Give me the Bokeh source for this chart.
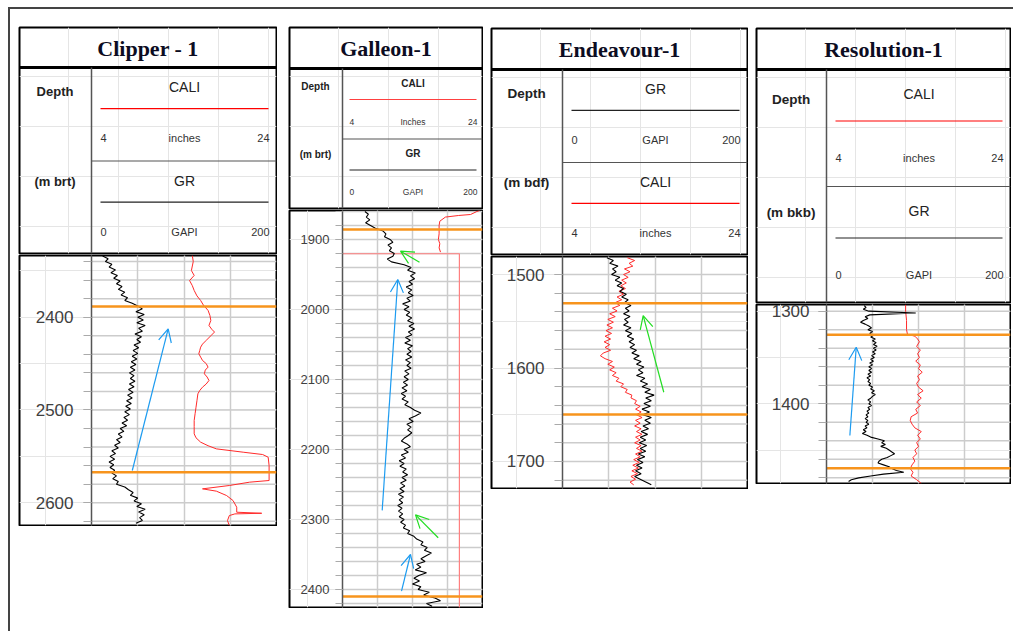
from bokeh.plotting import figure
from bokeh.models import (Range1d, LinearAxis, Grid, FixedTicker, SingleIntervalTicker,
                          Arrow, OpenHead, Spacer, ColumnDataSource)
from bokeh.layouts import row, column
from bokeh.embed import file_html
from bokeh.resources import INLINE
from bokeh.core.properties import value

# ---------------- data ----------------
well_names = ["Clipper - 1", "Galleon-1", "Endeavour-1", "Resolution-1"]
depth_units = ["(m brt)", "(m brt)", "(m bdf)", "(m bkb)"]

# Clipper-1 (depth sampled every 3 m)
clipper_depth = list(range(2334, 2623, 3))
clipper_gr = [12, 18, 15, 22, 19, 26, 21, 28, 24, 31,
              27, 33, 29, 36, 32, 39, 36, 44, 50, 55,
              48, 57, 50, 56, 49, 58, 51, 55, 47, 54,
              49, 53, 46, 51, 45, 50, 44, 49, 43, 48,
              42, 47, 41, 46, 42, 47, 41, 46, 40, 45,
              39, 44, 38, 43, 37, 42, 36, 41, 35, 39,
              33, 38, 31, 35, 29, 33, 27, 31, 25, 29,
              22, 26, 20, 25, 19, 24, 20, 25, 22, 27,
              23, 29, 27, 36, 40, 45, 42, 50, 46, 54,
              49, 58, 51, 57, 52, 55, 48]
clipper_cali_depth = [2333.5, 2340, 2349.7, 2355, 2360.5, 2366, 2371.2, 2377, 2382, 2387,
                      2392.7, 2398, 2403.5, 2408.9, 2413, 2416, 2420, 2425, 2429, 2432.3,
                      2436, 2439.4, 2443, 2446.6, 2450, 2453.8, 2457, 2461, 2464.5, 2468.2,
                      2472, 2475.4, 2479, 2482.6, 2490, 2497, 2504, 2511.3, 2518, 2525.7,
                      2530, 2534.7, 2538.5, 2541.9, 2545.5, 2548, 2550.9, 2560, 2570, 2576,
                      2577.8, 2581.4, 2585, 2587.5, 2592.2, 2597.6, 2604.8, 2610.2, 2611.3, 2612,
                      2613.8, 2619.2, 2624.5]
clipper_cali = [14.9, 15.0, 14.8, 15.1, 14.6, 14.9, 15.1, 15.4, 15.8, 16.1,
                16.6, 16.8, 16.9, 16.7, 17.0, 17.3, 16.9, 16.4, 16.0, 15.8,
                15.7, 15.6, 15.8, 16.0, 16.4, 16.6, 16.3, 16.2, 16.5, 16.7,
                16.4, 16.0, 15.7, 15.5, 15.4, 15.3, 15.2, 15.1, 15.1, 15.1,
                15.3, 15.8, 16.6, 17.5, 20.4, 22.5, 23.1, 23.2, 23.2, 23.2,
                21.1, 18.9, 16.0, 17.5, 18.6, 19.3, 19.7, 19.7, 22.4, 19.5,
                18.9, 18.7, 18.9]
clipper_tops = [2388.5, 2567.0]
clipper_arrows = [(44.1, 2565.2, 82.9, 2412.5, "blue")]

# Galleon-1 (depth sampled every 4 m)
galleon_depth = list(range(1860, 2425, 4))
galleon_gr = [32, 37, 34, 39, 33, 40, 47, 58, 62, 60,
              68, 72, 65, 70, 67, 74, 72, 64, 70, 88,
              98, 93, 104, 97, 103, 95, 100, 91, 99, 94,
              101, 92, 97, 86, 95, 88, 96, 91, 99, 93,
              102, 95, 103, 94, 99, 90, 97, 89, 100, 93,
              98, 92, 99, 90, 97, 92, 98, 89, 95, 88,
              94, 87, 93, 85, 92, 84, 90, 85, 94, 89,
              97, 103, 112, 104, 95, 101, 92, 98, 93, 99,
              94, 88, 84, 92, 97, 88, 94, 84, 90, 81,
              88, 82, 91, 86, 93, 85, 91, 83, 89, 82,
              88, 80, 87, 81, 86, 79, 85, 80, 86, 81,
              88, 83, 90, 87, 96, 93, 102, 106, 115, 112,
              121, 117, 127, 119, 112, 118, 106, 112, 104, 120,
              109, 102, 110, 100, 112, 108, 124, 116, 132, 140,
              120, 128]
galleon_cali_depth = [1858.6, 1860, 1864.3, 1865.7, 1868, 1873.9, 1880, 1891.9, 1900, 1906.1, 1912, 1918]
galleon_cali = [23.6, 23.2, 22.3, 20.6, 18.7, 17.9, 17.8, 17.8, 17.7, 17.9, 17.8, 18.0]
galleon_cali2_depth = [1920.4, 1920.4, 2426.0]
galleon_cali2 = [4.0, 20.7, 20.7]
galleon_tops = [1885.7, 2410.0]
galleon_arrows = [(56.7, 2287.0, 79.0, 1957.1, "blue"),
                  (110.0, 1932.4, 82.9, 1916.7, "green"),
                  (136.7, 2326.1, 104.3, 2293.3, "green"),
                  (84.3, 2402.4, 97.1, 2350.0, "blue")]

# Endeavour-1 (depth sampled every 3 m)
endeavour_depth = list(range(1482, 1726, 3))
endeavour_gr = [48, 55, 51, 60, 54, 58, 53, 62, 57, 64,
                59, 66, 62, 69, 64, 71, 67, 74, 68, 72,
                66, 73, 67, 71, 66, 74, 68, 75, 70, 77,
                72, 78, 73, 80, 75, 83, 77, 85, 80, 88,
                82, 87, 80, 89, 84, 92, 86, 95, 89, 99,
                90, 96, 88, 95, 86, 94, 87, 96, 89, 95,
                87, 93, 85, 92, 84, 90, 83, 91, 84, 90,
                82, 89, 81, 87, 80, 86, 79, 85, 78, 84,
                90, 96]
endeavour_cali_depth = list(range(1482, 1726, 3))
endeavour_cali = [11.0, 11.8, 11.2, 11.6, 10.7, 11.3, 10.6, 11.1, 10.4, 10.9,
                  10.3, 10.8, 10.1, 10.6, 9.9, 10.4, 9.7, 10.2, 9.4, 9.9,
                  9.1, 9.7, 8.9, 9.5, 8.8, 9.4, 8.7, 9.3, 8.6, 9.2,
                  8.5, 9.1, 8.6, 9.2, 8.4, 8.1, 8.6, 9.4, 8.9, 9.6,
                  9.1, 9.8, 9.4, 10.1, 9.8, 10.6, 10.3, 11.0, 10.8, 11.5,
                  11.4, 12.0, 11.8, 12.4, 11.9, 12.5, 12.0, 12.6, 11.9, 12.4,
                  11.8, 12.5, 12.0, 12.6, 11.9, 12.4, 11.8, 12.5, 12.0, 12.6,
                  11.9, 12.4, 11.7, 12.3, 11.6, 12.2, 11.5, 12.1, 11.4, 11.9,
                  11.3, 11.7]
endeavour_tops = [1530.7, 1649.6]
endeavour_arrows = [(109.5, 1625.9, 87.2, 1544.0, "green")]

# Resolution-1 (depth sampled every 2 m)
resolution_depth = list(range(1294, 1485, 2))
resolution_gr = [41, 43, 40, 46, 97, 47, 42, 45, 40, 37,
                 42, 46, 49, 45, 50, 47, 51, 48, 53, 50,
                 54, 51, 55, 51, 54, 50, 53, 49, 52, 48,
                 51, 47, 50, 46, 49, 46, 49, 45, 48, 44,
                 47, 45, 48, 46, 50, 48, 52, 49, 53, 50,
                 48, 45, 48, 46, 49, 45, 47, 44, 46, 43,
                 45, 42, 45, 43, 46, 42, 44, 40, 43, 39,
                 44, 48, 56, 63, 60, 64, 59, 65, 68, 71,
                 74, 70, 66, 60, 57, 56, 62, 68, 71, 76,
                 84, 62, 48, 35, 27, 24]
resolution_cali_depth = [1293, 1300, 1310, 1320, 1325, 1327, 1330, 1333, 1338, 1342,
                         1346, 1350, 1354, 1358, 1362, 1366, 1370, 1374, 1378, 1382,
                         1386, 1390, 1394, 1398, 1402, 1406, 1410, 1414, 1418, 1422,
                         1426, 1430, 1434, 1438, 1442, 1446, 1450, 1454, 1458, 1462,
                         1466, 1470, 1474, 1478, 1482, 1486]
resolution_cali = [12.6, 12.6, 12.7, 12.7, 12.8, 13.6, 13.9, 14.1, 13.8, 14.2,
                   13.9, 14.1, 13.7, 14.2, 14.0, 14.4, 13.9, 14.1, 13.8, 14.0,
                   14.5, 13.9, 14.3, 13.8, 14.2, 13.7, 13.9, 13.2, 13.1, 13.3,
                   13.6, 14.3, 13.9, 14.2, 13.8, 14.0, 13.6, 13.8, 13.4, 13.6,
                   13.3, 13.1, 13.4, 13.2, 13.8, 14.3]
resolution_tops = [1325.5, 1469.5]
resolution_arrows = [(25.4, 1434.2, 32.3, 1338.9, "blue")]

# ---------------- styling ----------------
ARROW_COLORS = {"blue": "#1c9bf0", "green": "#22dd22"}
CALI_SPEC = ("CALI", "#ff0000", "4", "inches", "24")
CALI_SPEC_G = ("CALI", "#ff4040", "4", "Inches", "24")
GR_SPEC = ("GR", "#222222", "0", "GAPI", "200")
SANS = "Liberation Sans"
GRID_COLOR = "#cccccc"


def build_header(title, unit, W, H, th, dw, curves, name_fs, name_bold, depth_fs, small_fs, inset):
    p = figure(width=W, height=H, x_range=Range1d(1, W - 1), y_range=Range1d(H - 1, 1),
               min_border=1, toolbar_location=None, output_backend="svg",
               x_axis_location=None, y_axis_location=None)
    p.outline_line_color = "black"
    p.outline_line_width = 2
    p.background_fill_color = "white"
    p.border_fill_color = "white"
    p.segment(x0=[1], y0=[th], x1=[W - 1], y1=[th], line_color="black", line_width=3)
    p.segment(x0=[dw], y0=[th], x1=[dw], y1=[H - 1], line_color="#555555", line_width=1.5)
    sec = (H - th) / 2.0
    p.segment(x0=[dw], y0=[th + sec], x1=[W - 1], y1=[th + sec], line_color="#555555", line_width=1.2)
    p.text(x=[W / 2.0], y=[th / 2.0 + 1], text=[title], text_font=value("Liberation Serif"),
           text_font_style="bold", text_font_size="22px", text_color="#0c0c22",
           text_align="center", text_baseline="middle")
    p.text(x=[dw / 2.0], y=[th + 0.13 * (H - th)], text=["Depth"], text_font=value(SANS),
           text_font_style="bold", text_font_size=depth_fs, text_color="#222222",
           text_align="center", text_baseline="middle")
    p.text(x=[dw / 2.0], y=[th + 0.61 * (H - th)], text=[unit], text_font=value(SANS),
           text_font_style="bold", text_font_size=depth_fs, text_color="#222222",
           text_align="center", text_baseline="middle")
    cx = (dw + W) / 2.0
    for i, (name, color, lo, un, hi) in enumerate(curves):
        s0 = th + i * sec
        p.text(x=[cx], y=[s0 + 0.21 * sec], text=[name], text_font=value(SANS),
               text_font_style="bold" if name_bold else "normal", text_font_size=name_fs,
               text_color="#222222", text_align="center", text_baseline="middle")
        ly = s0 + 0.44 * sec
        p.segment(x0=[dw + inset], y0=[ly], x1=[W - inset], y1=[ly], line_color=color, line_width=1.2)
        sy = s0 + 0.755 * sec
        for txt, xx, al in ((lo, dw + inset, "left"), (un, cx, "center"), (hi, W - inset + 1, "right")):
            p.text(x=[xx], y=[sy], text=[txt], text_font=value(SANS), text_font_size=small_fs,
                   text_color="#333333", text_align=al, text_baseline="middle")
    return p


def build_track(W, H, dw, d_top, d_bot, depth, gr, cdep, cali, tops, arrows,
                tick_fs, tick_len, standoff, extra=None):
    track_px = (W - 1) - dw
    x0 = -(dw - 1) / track_px * 200.0
    p = figure(width=W, height=H, x_range=Range1d(x0, 200), y_range=Range1d(d_bot, d_top),
               min_border=1, toolbar_location=None, output_backend="svg",
               x_axis_location=None, y_axis_location=None)
    p.extra_x_ranges = {"cali": Range1d(4 + x0 / 10.0, 24)}
    p.outline_line_color = "black"
    p.outline_line_width = 2
    p.background_fill_color = "white"
    p.border_fill_color = "white"
    # vertical track divisions
    p.add_layout(Grid(dimension=0, ticker=FixedTicker(ticks=[50, 100, 150]),
                      grid_line_color=GRID_COLOR, grid_line_width=1.5))
    # horizontal 20 m divisions, track only
    first = int(d_top // 20 + 1) * 20
    hlines = list(range(first, int(d_bot) + 1, 20))
    p.segment(x0=[0] * len(hlines), x1=[200] * len(hlines), y0=hlines, y1=hlines,
              line_color=GRID_COLOR, line_width=1.5)
    if extra is not None:
        p.line(x=extra[1], y=extra[0], x_range_name="cali", line_color="#ff8080", line_width=1.2)
    p.line(x="x", y="y", source=ColumnDataSource(dict(x=list(cali), y=list(cdep))),
           x_range_name="cali", line_color="#ff2a2a", line_width=1)
    p.line(x="x", y="y", source=ColumnDataSource(dict(x=list(gr), y=list(depth))),
           line_color="black", line_width=1.1)
    p.segment(x0=[0] * len(tops), x1=[200] * len(tops), y0=tops, y1=tops,
              line_color="#f7941d", line_width=2.5)
    for (xs, ys, xe, ye, c) in arrows:
        col = ARROW_COLORS[c]
        p.add_layout(Arrow(end=OpenHead(size=13, line_color=col, line_width=1.2),
                           x_start=xs, y_start=ys, x_end=xe, y_end=ye,
                           line_color=col, line_width=1.2))
    yt = SingleIntervalTicker(interval=100, num_minor_ticks=5)
    ax = LinearAxis(fixed_location=0, ticker=yt)
    ax.axis_line_color = "#555555"
    ax.axis_line_width = 1.5
    ax.major_tick_line_color = "#aaaaaa"
    ax.minor_tick_line_color = "#aaaaaa"
    ax.major_tick_out = tick_len
    ax.major_tick_in = 0
    ax.minor_tick_out = tick_len
    ax.minor_tick_in = 0
    ax.major_label_standoff = standoff
    ax.major_label_text_font = SANS
    ax.major_label_text_font_size = tick_fs
    ax.major_label_text_color = "#404040"
    p.add_layout(ax, "left")
    return p


h1 = build_header(well_names[0], depth_units[0], 259, 228, 41, 73, [CALI_SPEC, GR_SPEC],
                  "14px", False, "13px", "11px", 9)
t1 = build_track(259, 272, 73, 2333.5, 2624.5, clipper_depth, clipper_gr,
                 clipper_cali_depth, clipper_cali, clipper_tops, clipper_arrows, "17px", 8, 10)

h2 = build_header(well_names[1], depth_units[1], 195, 183, 42, 54, [CALI_SPEC_G, GR_SPEC],
                  "10px", True, "10px", "8.5px", 7)
t2 = build_track(195, 399, 54, 1858.6, 2425.7, galleon_depth, galleon_gr,
                 galleon_cali_depth, galleon_cali, galleon_tops, galleon_arrows, "13px", 7, 6,
                 extra=(galleon_cali2_depth, galleon_cali2))

h3 = build_header(well_names[2], depth_units[2], 258, 228, 42, 72, [GR_SPEC, CALI_SPEC],
                  "14px", False, "13.5px", "11px", 9)
t3 = build_track(258, 234, 72, 1480.7, 1728.9, endeavour_depth, endeavour_gr,
                 endeavour_cali_depth, endeavour_cali, endeavour_tops, endeavour_arrows, "17px", 8, 10)

h4 = build_header(well_names[3], depth_units[3], 256, 276, 42, 71, [CALI_SPEC, GR_SPEC],
                  "14px", False, "13.5px", "11px", 9)
t4 = build_track(256, 181, 71, 1292.8, 1486.1, resolution_depth, resolution_gr,
                 resolution_cali_depth, resolution_cali, resolution_tops, resolution_arrows,
                 "17px", 8, 9)

c1 = column(h1, t1, spacing=0)
c2 = column(h2, t2, spacing=0)
c3 = column(Spacer(width=258, height=1), h3, t3, spacing=0)
c4 = column(Spacer(width=256, height=1), h4, t4, spacing=0)
wells_row = row(Spacer(width=8, height=10), c1, Spacer(width=11, height=10), c2,
                Spacer(width=7, height=10), c3, Spacer(width=7, height=10), c4, spacing=0)
frame_box = column(Spacer(width=1000, height=17), wells_row, spacing=0, width=1005, height=624,
                   styles={"border-top": "2px solid #444444", "border-left": "2px solid #444444",
                           "box-sizing": "border-box", "background-color": "white"})
root = column(Spacer(width=1005, height=7), row(Spacer(width=8, height=10), frame_box, spacing=0),
              spacing=0)

open("out.html", "w").write(file_html(root, INLINE))
